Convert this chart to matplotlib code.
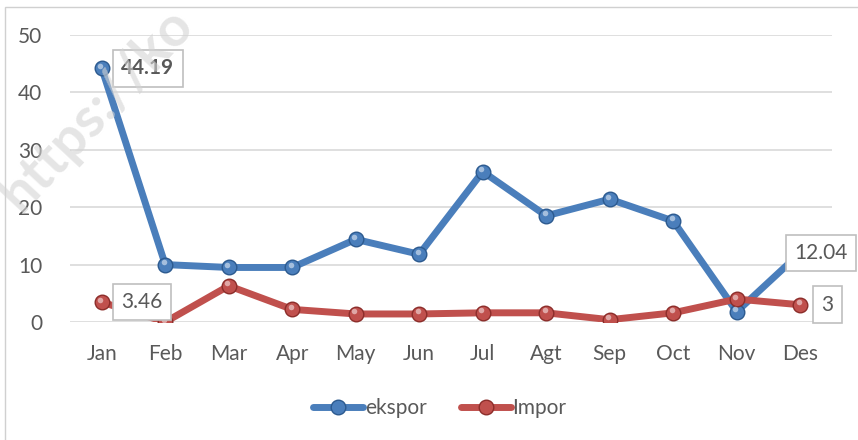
import matplotlib.pyplot as plt
import matplotlib.patches as mpatches
from matplotlib.lines import Line2D
import matplotlib.transforms as mtransforms
import numpy as np

plt.rcParams['font.family'] = ['Lato', 'DejaVu Sans']

bulan = ['Jan', 'Feb', 'Mar', 'Apr', 'May', 'Jun', 'Jul', 'Agt', 'Sep', 'Oct', 'Nov', 'Des']
ekspor = [44.19, 10.0, 9.5, 9.5, 14.4, 11.8, 26.2, 18.5, 21.4, 17.6, 1.8, 12.04]
impor = [3.46, 0.0, 6.3, 2.2, 1.4, 1.4, 1.6, 1.6, 0.4, 1.6, 4.0, 3.0]

biru = '#4a7ebb'
merah = '#c0504d'
teks = '#595959'

fig = plt.figure(figsize=(8.58, 4.40), dpi=100)
ax = fig.add_axes([70/858, 1-322/440, 762/858, 287/440])

# outer chart frame (only left and top visible)
fig.patches.append(mpatches.Rectangle((5/858, -0.1), 1.2, 1-7/440+0.1,
                   transform=fig.transFigure, fill=False, ec='#d0d0d0', lw=1.0))

x = np.arange(len(bulan))


def seri(y, warna, gelap, label):
    ax.plot(x, y, color=warna, lw=5, solid_capstyle='round', zorder=3)
    ax.plot(x, y, ls='none', marker='o', ms=10.5, mfc=warna, mec=gelap, mew=1.0, zorder=4)
    off = mtransforms.offset_copy(ax.transData, fig=fig, x=-1.2, y=1.8, units='points')
    ax.plot(x, y, ls='none', marker='o', ms=4, mfc='white', mec='none', alpha=0.5,
            transform=off, zorder=5)
    return Line2D([0], [0], color=warna, lw=5, marker='o', ms=10.5, mfc=warna, mec=gelap,
                  solid_capstyle='round', label=label)


h1 = seri(ekspor, biru, '#2c5a8f', 'ekspor')
h2 = seri(impor, merah, '#8c2d2a', 'Impor')

ax.set_xlim(-0.5, len(bulan) - 0.5)
ax.set_ylim(0, 50)
ax.set_yticks(range(0, 51, 10))
ax.set_xticks(x)
ax.set_xticklabels(bulan)
ax.tick_params(length=0, labelsize=15, colors=teks, pad=16)
ax.tick_params(axis='y', pad=20)
ax.grid(axis='y', color='#d9d9d9', lw=1.2)
ax.set_axisbelow(True)
for s in ax.spines.values():
    s.set_visible(False)

kotak = dict(boxstyle='square,pad=0.4', fc='white', ec='#bfbfbf', lw=1.2)
ax.annotate(f'{ekspor[0]:.2f}', (0, ekspor[0]), xytext=(14, 0), textcoords='offset points',
            ha='left', va='center', fontsize=15, fontweight='bold', color=teks, bbox=kotak,
            zorder=6, annotation_clip=False)
ax.annotate(f'{impor[0]:.2f}', (0, impor[0]), xytext=(14, 0), textcoords='offset points',
            ha='left', va='center', fontsize=15, color=teks, bbox=kotak, zorder=6,
            annotation_clip=False)
ax.annotate(f'{ekspor[11]:.2f}', (11, ekspor[11]), xytext=(-4, 0), textcoords='offset points',
            ha='left', va='center', fontsize=15, color=teks, bbox=kotak, zorder=6,
            annotation_clip=False)
ax.annotate(f'{impor[11]:g}', (11, impor[11]), xytext=(15, 0), textcoords='offset points',
            ha='left', va='center', fontsize=15, color=teks, bbox=kotak, zorder=6,
            annotation_clip=False)

fig.legend(handles=[h1, h2], loc='center', bbox_to_anchor=(440/858, 1-408/440), ncol=2,
           frameon=False, fontsize=15, labelcolor=teks, handlelength=2.4,
           handletextpad=0.1, columnspacing=1.6)

# watermark
fig.text(-0.01, 0.50, 'https://ko', rotation=47, fontsize=40, fontweight='bold',
         color='#d4d4d4', alpha=0.6, ha='left', va='bottom', zorder=10)

fig.savefig('out.png', dpi=100)
